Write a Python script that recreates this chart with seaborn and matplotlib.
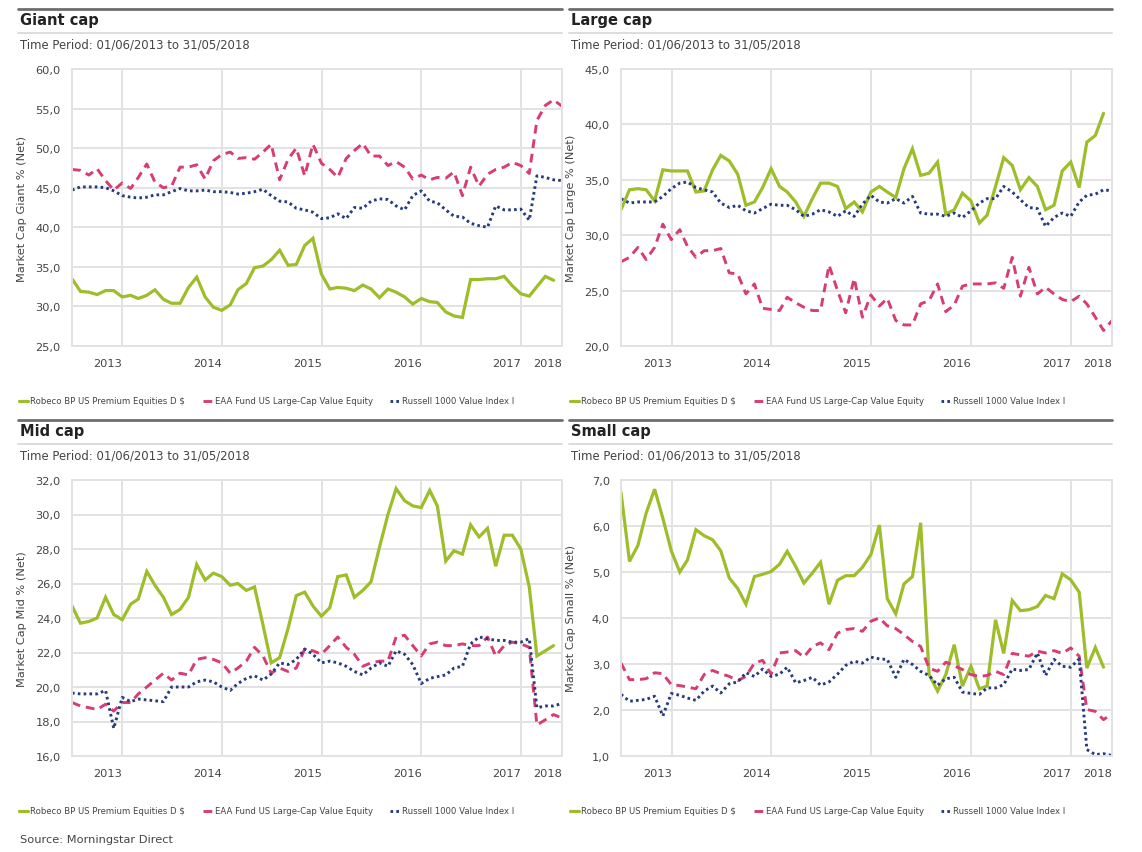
import numpy as np
import pandas as pd
import matplotlib
matplotlib.use("Agg")
import matplotlib.pyplot as plt
import matplotlib.transforms as mtransforms
from matplotlib.lines import Line2D
from matplotlib.ticker import FixedLocator, FuncFormatter
import seaborn as sns

# ---------------- data ----------------
months = [pd.Timestamp(2013 + (5 + k) // 12, (5 + k) % 12 + 1, 1) + pd.offsets.MonthEnd(0) for k in range(60)]

series_names = ["Robeco BP US Premium Equities D $",
                "EAA Fund US Large-Cap Value Equity",
                "Russell 1000 Value Index I"]
year_labels = ["2013", "2014", "2015", "2016", "2017", "2018"]
nan = np.nan

giant_robeco = [33.5, 31.9, 31.8, 31.5, 32.0, 32.0, 31.2, 31.4, 31.0, 31.4,
                32.1, 30.9, 30.4, 30.4, 32.4, 33.7, 31.2, 29.9, 29.5, 30.2,
                32.1, 32.9, 34.9, 35.1, 35.9, 37.1, 35.2, 35.3, 37.7, 38.6,
                34.1, 32.2, 32.4, 32.3, 32.0, 32.7, 32.2, 31.1, 32.2, 31.8,
                31.2, 30.3, 31.0, 30.6, 30.5, 29.3, 28.8, 28.6, 33.4, 33.4,
                33.5, 33.5, 33.8, 32.6, 31.6, 31.3, 32.5, 33.8, 33.3, nan]
giant_eaa = [47.3, 47.2, 46.6, 47.4, 45.9, 44.7, 45.6, 44.9, 46.3, 48.0,
             45.7, 45.0, 45.2, 47.6, 47.6, 47.9, 46.1, 48.4, 49.2, 49.5,
             48.7, 48.8, 48.6, 49.5, 50.5, 46.0, 48.6, 50.0, 46.5, 50.5,
             48.1, 47.3, 46.3, 48.7, 49.7, 50.6, 49.0, 49.0, 47.8, 48.3,
             47.6, 46.1, 46.6, 46.0, 46.3, 46.2, 47.0, 44.0, 47.6, 45.2,
             46.7, 47.3, 47.6, 48.2, 47.8, 46.8, 53.5, 55.4, 56.1, 55.3]
giant_russell = [44.7, 45.1, 45.1, 45.1, 45.0, 44.6, 44.0, 43.8, 43.7, 43.8,
                 44.1, 44.1, 44.5, 44.9, 44.6, 44.6, 44.7, 44.5, 44.5, 44.4,
                 44.2, 44.3, 44.5, 44.8, 44.0, 43.3, 43.2, 42.4, 42.2, 41.9,
                 41.1, 41.2, 41.7, 41.1, 42.5, 42.4, 43.3, 43.6, 43.5, 42.7,
                 42.2, 44.0, 44.6, 43.3, 43.1, 42.2, 41.4, 41.3, 40.5, 40.2,
                 40.0, 42.7, 42.2, 42.2, 42.3, 40.9, 46.5, 46.3, 46.0, 45.9]

large_robeco = [32.3, 34.1, 34.2, 34.1, 33.1, 35.9, 35.8, 35.8, 35.8, 33.9,
                34.0, 35.9, 37.2, 36.7, 35.5, 32.7, 33.0, 34.3, 36.0, 34.4,
                33.9, 33.0, 31.7, 33.3, 34.7, 34.7, 34.4, 32.4, 33.0, 32.1,
                33.9, 34.4, 33.9, 33.4, 36.0, 37.8, 35.4, 35.6, 36.6, 31.9,
                32.3, 33.8, 33.1, 31.1, 31.8, 34.4, 37.0, 36.3, 34.1, 35.2,
                34.4, 32.3, 32.7, 35.8, 36.6, 34.3, 38.4, 39.0, 41.0, nan]
large_eaa = [27.6, 28.0, 28.9, 27.8, 28.9, 31.0, 29.6, 30.5, 29.0, 28.0,
             28.6, 28.6, 28.8, 26.6, 26.5, 24.7, 25.6, 23.4, 23.3, 23.2,
             24.4, 23.9, 23.5, 23.2, 23.2, 27.3, 25.0, 23.0, 26.1, 22.6,
             24.6, 23.6, 24.3, 22.3, 21.9, 21.9, 23.8, 24.1, 25.6, 23.1,
             23.7, 25.4, 25.6, 25.6, 25.6, 25.7, 25.2, 28.0, 24.5, 27.1,
             24.7, 25.3, 24.7, 24.2, 24.0, 24.5, 23.8, 22.6, 21.4, 22.3]
large_russell = [33.3, 32.9, 33.0, 33.0, 33.0, 33.5, 34.2, 34.7, 34.8, 34.3,
                 34.1, 33.9, 32.9, 32.5, 32.7, 32.2, 32.0, 32.4, 32.8, 32.7,
                 32.7, 32.3, 31.7, 31.9, 32.3, 32.1, 31.7, 32.2, 31.7, 32.8,
                 33.6, 33.0, 32.9, 33.3, 32.9, 33.5, 32.0, 31.9, 31.9, 31.7,
                 32.0, 31.6, 32.2, 32.9, 33.3, 33.3, 34.4, 33.9, 33.2, 32.5,
                 32.4, 30.8, 31.6, 32.0, 31.7, 33.0, 33.6, 33.7, 34.1, 34.0]

mid_robeco = [24.7, 23.7, 23.8, 24.0, 25.2, 24.2, 23.9, 24.8, 25.1, 26.7,
              25.9, 25.2, 24.2, 24.5, 25.2, 27.1, 26.2, 26.6, 26.4, 25.9,
              26.0, 25.6, 25.8, 23.6, 21.4, 21.7, 23.4, 25.3, 25.5, 24.7,
              24.1, 24.6, 26.4, 26.5, 25.2, 25.6, 26.1, 28.1, 30.0, 31.5,
              30.8, 30.5, 30.4, 31.4, 30.5, 27.3, 27.9, 27.7, 29.4, 28.7,
              29.2, 27.0, 28.8, 28.8, 28.0, 25.8, 21.8, 22.1, 22.4, nan]
mid_eaa = [19.1, 18.9, 18.8, 18.7, 19.0, 18.6, 19.1, 19.1, 19.6, 20.0,
           20.4, 20.8, 20.4, 20.8, 20.7, 21.6, 21.7, 21.6, 21.4, 20.8,
           21.1, 21.5, 22.3, 21.8, 20.8, 21.1, 20.9, 21.1, 22.2, 22.1,
           21.9, 22.4, 22.9, 22.3, 21.9, 21.2, 21.4, 21.5, 21.5, 22.9,
           23.0, 22.4, 21.8, 22.5, 22.6, 22.4, 22.4, 22.5, 22.4, 22.4,
           22.9, 21.8, 22.4, 22.6, 22.5, 22.3, 17.8, 18.1, 18.4, 18.2]
mid_russell = [19.65, 19.6, 19.6, 19.6, 19.8, 17.6, 19.4, 19.15, 19.3, 19.25,
               19.2, 19.15, 20.0, 20.0, 20.0, 20.3, 20.4, 20.3, 20.0, 19.8,
               20.2, 20.5, 20.65, 20.4, 20.75, 21.4, 21.3, 21.6, 22.2, 21.9,
               21.4, 21.5, 21.4, 21.2, 20.9, 20.7, 21.1, 21.4, 21.2, 22.1,
               21.9, 21.3, 20.2, 20.5, 20.6, 20.7, 21.1, 21.2, 22.5, 22.9,
               22.8, 22.7, 22.7, 22.6, 22.6, 22.8, 18.8, 18.9, 18.9, 19.05]

small_robeco = [6.73, 5.23, 5.58, 6.28, 6.80, 6.17, 5.46, 5.00, 5.26, 5.92,
                5.79, 5.70, 5.46, 4.87, 4.64, 4.30, 4.90, 4.95, 5.01, 5.17,
                5.45, 5.12, 4.76, 4.98, 5.21, 4.30, 4.82, 4.92, 4.92, 5.10,
                5.38, 6.02, 4.42, 4.09, 4.74, 4.90, 6.07, 2.77, 2.41, 2.77,
                3.42, 2.52, 2.95, 2.46, 2.52, 3.96, 3.23, 4.38, 4.16, 4.18,
                4.25, 4.49, 4.42, 4.96, 4.83, 4.56, 2.91, 3.36, 2.93, nan]
small_eaa = [3.02, 2.66, 2.66, 2.68, 2.81, 2.79, 2.55, 2.53, 2.50, 2.46,
             2.77, 2.86, 2.79, 2.73, 2.64, 2.73, 3.02, 3.08, 2.78, 3.24,
             3.26, 3.29, 3.15, 3.38, 3.46, 3.31, 3.67, 3.75, 3.77, 3.71,
             3.93, 4.00, 3.83, 3.77, 3.64, 3.49, 3.38, 2.91, 2.84, 3.04,
             2.96, 2.88, 2.77, 2.73, 2.75, 2.84, 2.77, 3.23, 3.20, 3.17,
             3.28, 3.24, 3.29, 3.23, 3.35, 3.17, 2.01, 1.97, 1.79, 1.92]
small_russell = [2.34, 2.19, 2.21, 2.23, 2.30, 1.87, 2.36, 2.32, 2.26, 2.21,
                 2.41, 2.52, 2.37, 2.57, 2.61, 2.81, 2.73, 2.89, 2.73, 2.78,
                 2.93, 2.59, 2.64, 2.71, 2.54, 2.61, 2.78, 2.97, 3.06, 3.02,
                 3.15, 3.11, 3.10, 2.71, 3.10, 2.99, 2.84, 2.75, 2.54, 2.68,
                 2.71, 2.39, 2.36, 2.34, 2.48, 2.48, 2.55, 2.89, 2.86, 2.88,
                 3.24, 2.75, 3.10, 2.95, 2.93, 3.11, 1.14, 1.03, 1.05, 1.01]

giant_yticks = [25, 30, 35, 40, 45, 50, 55, 60]
large_yticks = [20, 25, 30, 35, 40, 45]
mid_yticks = [16, 18, 20, 22, 24, 26, 28, 30, 32]
small_yticks = [1, 2, 3, 4, 5, 6, 7]

# ---------------- style ----------------
sns.set_theme(style="white")
plt.rcParams["font.family"] = ["DejaVu Sans"]

W, H = 1142, 853
fig = plt.figure(figsize=(W / 100, H / 100), dpi=100)
fig.patch.set_facecolor("white")

GREEN = "#9DBD2B"
PINK = "#D83C75"
BLUE = "#283A7E"
GRID = "#E2E2E2"
TXT = "#444444"

def fx(px):
    return px / W

def fy(py):
    return 1 - py / H

panels = [
    dict(title="Giant cap", ylabel="Market Cap Giant % (Net)", data=[giant_robeco, giant_eaa, giant_russell],
         yticks=giant_yticks, left=72, right=562, top=70, bottom=347, x0=18, x1=562, ytop=10, legy=402),
    dict(title="Large cap", ylabel="Market Cap Large % (Net)", data=[large_robeco, large_eaa, large_russell],
         yticks=large_yticks, left=621, right=1112, top=70, bottom=347, x0=569, x1=1112, ytop=10, legy=402),
    dict(title="Mid cap", ylabel="Market Cap Mid % (Net)", data=[mid_robeco, mid_eaa, mid_russell],
         yticks=mid_yticks, left=72, right=562, top=481, bottom=757, x0=18, x1=562, ytop=421, legy=812),
    dict(title="Small cap", ylabel="Market Cap Small % (Net)", data=[small_robeco, small_eaa, small_russell],
         yticks=small_yticks, left=621, right=1112, top=481, bottom=757, x0=569, x1=1112, ytop=421, legy=812),
]

styles = [
    dict(color=GREEN, lw=2.3, ls="-"),
    dict(color=PINK, lw=2.1, ls=(0, (3.0, 2.0))),
    dict(color=BLUE, lw=2.1, ls=(0, (0.9, 1.1))),
]

year_bounds = [pd.Timestamp(f"{y}-01-01") for y in range(2014, 2019)]
x_ticks = [months[0]] + year_bounds + [months[-1]]
x_tick_labels = [""] + year_labels

for p in panels:
    width = p["right"] - p["left"]
    ax = fig.add_axes([fx(p["left"]), fy(p["bottom"]), fx(width), (p["bottom"] - p["top"]) / H])
    df = pd.DataFrame({"date": months})
    for name, vals, st in zip(series_names, p["data"], styles):
        df[name] = vals
        sub = df[["date", name]].dropna()
        sns.lineplot(data=sub, x="date", y=name, ax=ax, color=st["color"], linewidth=st["lw"],
                     linestyle=st["ls"], label=name, solid_joinstyle="miter", dash_capstyle="butt")
    ax.set_xlim(months[0], months[-1])
    ax.set_ylim(p["yticks"][0], p["yticks"][-1])
    ax.yaxis.set_major_locator(FixedLocator(p["yticks"]))
    ax.yaxis.set_major_formatter(FuncFormatter(lambda v, pos: f"{v:.1f}".replace(".", ",")))
    ax.set_xticks(x_ticks)
    ax.set_xticklabels(x_tick_labels)
    offset = mtransforms.ScaledTranslation(-3 / 100, 0, fig.dpi_scale_trans)
    for lab in ax.get_xticklabels():
        lab.set_horizontalalignment("right")
        lab.set_transform(lab.get_transform() + offset)
    ax.grid(True, color=GRID, linewidth=1.4)
    ax.set_axisbelow(True)
    for s in ax.spines.values():
        s.set_color(GRID)
        s.set_linewidth(1.4)
    ax.tick_params(axis="both", which="both", length=5, width=1.4, color=GRID,
                   labelsize=8.2, labelcolor=TXT, pad=3)
    ax.tick_params(axis="x", pad=4)
    ax.set_xlabel("")
    ax.set_ylabel(p["ylabel"], fontsize=8.2, color=TXT)
    ax.yaxis.set_label_coords(-45 / width, 0.5)
    ax.legend_.remove()

    # header
    fig.add_artist(Line2D([fx(p["x0"]), fx(p["x1"])], [fy(p["ytop"])] * 2, color="#6E6E6E", lw=2.0))
    fig.text(fx(p["x0"] + 2), fy(p["ytop"] + 11), p["title"], fontsize=10.5, fontweight="bold",
             color="#222222", va="center", ha="left")
    fig.add_artist(Line2D([fx(p["x0"]), fx(p["x1"])], [fy(p["ytop"] + 24)] * 2, color="#DDDDDD", lw=1.4))
    fig.text(fx(p["x0"] + 2), fy(p["ytop"] + 35), "Time Period: 01/06/2013 to 31/05/2018",
             fontsize=8.4, color=TXT, va="center", ha="left")

    # legend
    handles = [Line2D([0], [0], color=st["color"], lw=st["lw"], linestyle=st["ls"], dash_capstyle="butt")
               for st in styles]
    leg = ax.legend(handles, series_names, loc="center left",
                    bbox_to_anchor=(fx(p["x0"] + 1), fy(p["legy"])), bbox_transform=fig.transFigure,
                    ncol=3, frameon=False, fontsize=6.1, handlelength=1.1, handletextpad=0.25,
                    columnspacing=2.1, borderpad=0, borderaxespad=0)
    for t in leg.get_texts():
        t.set_color(TXT)

fig.text(fx(20), fy(840), "Source: Morningstar Direct", fontsize=8.2, color=TXT, va="center", ha="left")

fig.savefig("out.png", dpi=100, facecolor="white")
